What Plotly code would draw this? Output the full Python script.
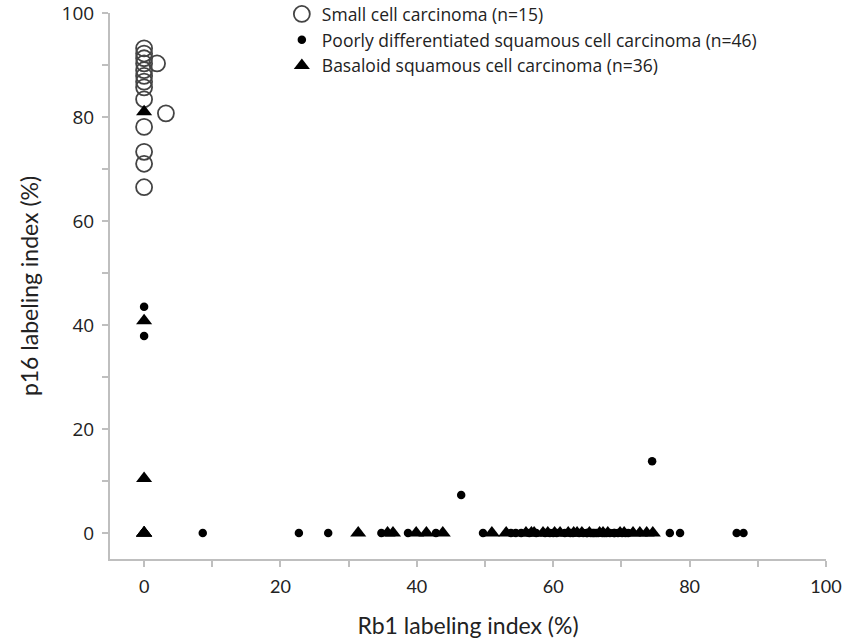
import plotly.graph_objects as go

# Small cell carcinoma (n=15) - open circles
sc_x = [0, 0, 0, 0, 0, 0, 0, 0, 0, 0, 0, 0, 0, 1.9, 3.2]
sc_y = [93.2, 92.2, 91.3, 90.3, 89.0, 87.9, 86.8, 85.7, 83.4, 78.1, 73.3, 71.0, 66.5, 90.3, 80.7]

# Poorly differentiated squamous cell carcinoma (n=46) - filled dots
pd_x = [0, 0, 8.6, 22.7, 27.0, 34.8, 38.7, 42.8, 49.7, 53.8, 55.3, 61.7, 62.9, 77.1, 78.6,
        86.9, 87.9, 46.5, 74.5,
        54.5, 56.5, 57.5, 59.5, 60.5, 63.8, 64.4, 65.0, 65.5, 66.0, 66.6, 67.2, 67.8, 68.3,
        68.9, 69.5, 70.1, 70.6, 71.0, 64.9, 66.3, 67.5, 69.0, 58.8, 60.0, 62.5, 65.8]
pd_y = [43.5, 37.9, 0, 0, 0, 0, 0, 0, 0, 0, 0, 0, 0, 0, 0,
        0, 0, 7.3, 13.8,
        0, 0, 0, 0, 0, 0, 0, 0, 0, 0, 0, 0, 0, 0,
        0, 0, 0, 0, 0, 0, 0, 0, 0, 0, 0, 0, 0]

# Basaloid squamous cell carcinoma (n=36) - filled triangles
bs_x = [0, 0, 0, 0, 31.4, 35.7, 36.5, 39.9, 41.4, 43.8, 51.0, 53.1, 56.0, 56.8, 58.5, 59.2,
        60.2, 62.2, 63.5, 71.7, 72.7, 73.7, 74.6,
        64.2, 65.3, 66.8, 68.0, 69.8, 70.4, 0, 0, 0, 57.2, 61.0, 63.0, 67.3]
bs_y = [81.0, 40.8, 10.5, 0, 0, 0, 0, 0, 0, 0, 0, 0, 0, 0, 0, 0,
        0, 0, 0, 0, 0, 0, 0,
        0, 0, 0, 0, 0, 0, 0, 0, 0, 0, 0, 0, 0]

names = ["Small cell carcinoma (n=15)",
         "Poorly differentiated squamous cell carcinoma (n=46)",
         "Basaloid squamous cell carcinoma (n=36)"]

tick_vals = [0, 10, 20, 30, 40, 50, 60, 70, 80, 90, 100]
tick_text = ["0", "", "20", "", "40", "", "60", "", "80", "", "100"]

fig = go.Figure()
fig.add_trace(go.Scatter(
    x=sc_x, y=sc_y, mode="markers", name=names[0],
    marker=dict(symbol="circle-open", size=16, color="#444444", line=dict(width=1.8, color="#444444")),
))
fig.add_trace(go.Scatter(
    x=pd_x, y=pd_y, mode="markers", name=names[1],
    marker=dict(symbol="circle", size=8.5, color="black"),
))
fig.add_trace(go.Scatter(
    x=bs_x, y=bs_y, mode="markers", name=names[2],
    marker=dict(symbol="triangle-up", size=14, color="black"),
))

axis_common = dict(
    showgrid=False, zeroline=False, showline=True, linecolor="#bfbfbf", linewidth=2,
    ticks="outside", ticklen=6, tickcolor="#bfbfbf", tickwidth=1.5, automargin=False,
    range=[-5, 100], tickvals=tick_vals, ticktext=tick_text, ticklabeloverflow="allow",
)

fig.update_layout(
    width=861, height=642,
    paper_bgcolor="white", plot_bgcolor="white",
    margin=dict(l=110, r=35, t=13, b=83, autoexpand=False),
    font=dict(family="Lato, Open Sans, sans-serif", color="#222222"),
    xaxis=dict(
        tickfont=dict(size=18, family="Lato, sans-serif"), ticklabelstandoff=4,
        title=dict(text="Rb1 labeling index (%)", font=dict(size=23, family="Lato, sans-serif"), standoff=22),
        **axis_common,
    ),
    yaxis=dict(
        tickfont=dict(size=19, family="Open Sans, sans-serif"), ticklabelstandoff=4,
        title=dict(text="p16 labeling index (%)", font=dict(size=23, family="Lato, sans-serif"), standoff=17),
        **axis_common,
    ),
    legend=dict(
        x=0.24, y=1.031, xanchor="left", yanchor="top",
        font=dict(size=17.5, family="Open Sans, sans-serif", color="#222222"),
        bgcolor="rgba(0,0,0,0)", tracegroupgap=0, itemwidth=30,
    ),
)

fig.write_html("out.html", config={"displayModeBar": False},
               post_script="document.body.style.margin='0px';")
